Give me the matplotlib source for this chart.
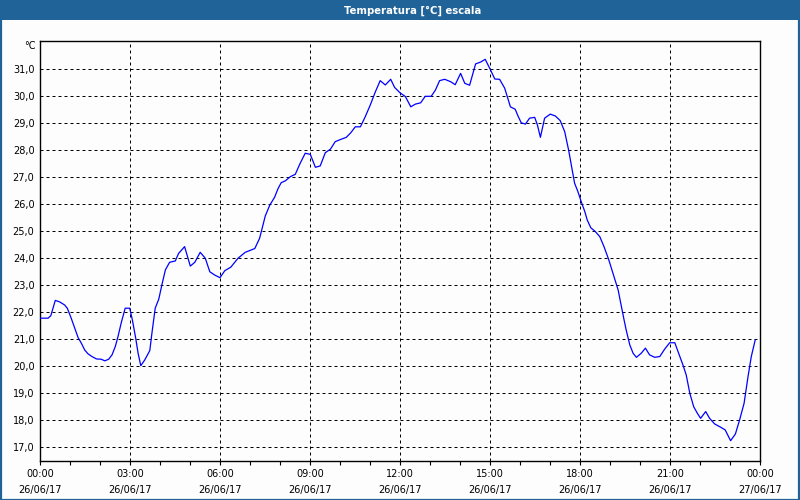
import matplotlib
matplotlib.use("Agg")
import matplotlib.pyplot as plt
from matplotlib.patches import Rectangle
from matplotlib.ticker import FixedLocator, MultipleLocator

# ---- data (hours since 26/06/17 00:00, temperature in °C) ----
hours = [0, 0.27, 0.36, 0.51, 0.66, 0.82, 0.91, 1.04, 1.16, 1.27, 1.38, 1.49, 1.6, 1.73, 1.88,
         2.04, 2.16, 2.29, 2.4, 2.51, 2.6, 2.71, 2.84, 2.99, 3.08, 3.19, 3.27, 3.36, 3.49, 3.66,
         3.73, 3.84, 3.96, 4.07, 4.18, 4.32, 4.51, 4.62, 4.82, 5.01, 5.16, 5.34, 5.51, 5.66, 5.82,
         6.0, 6.16, 6.36, 6.6, 6.84, 7.16, 7.32, 7.51, 7.66, 7.82, 7.93, 8.04, 8.18, 8.34, 8.51,
         8.66, 8.84, 9.01, 9.18, 9.34, 9.51, 9.68, 9.84, 10.04, 10.21, 10.36, 10.51, 10.68, 10.84,
         11.01, 11.18, 11.34, 11.51, 11.69, 11.82, 12.0, 12.18, 12.36, 12.51, 12.69, 12.84, 13.04,
         13.18, 13.32, 13.49, 13.69, 13.84, 14.02, 14.16, 14.32, 14.52, 14.69, 14.84, 14.99, 15.16,
         15.32, 15.49, 15.68, 15.84, 15.93, 16.04, 16.18, 16.32, 16.49, 16.58, 16.68, 16.82, 17.01,
         17.18, 17.34, 17.49, 17.62, 17.71, 17.82, 17.93, 18.04, 18.16, 18.24, 18.36, 18.51, 18.66,
         18.8, 18.96, 19.1, 19.27, 19.38, 19.47, 19.54, 19.66, 19.77, 19.88, 20.04, 20.18, 20.32,
         20.49, 20.66, 20.82, 20.99, 21.16, 21.29, 21.43, 21.54, 21.66, 21.79, 21.91, 22.02, 22.19,
         22.32, 22.49, 22.69, 22.84, 23.02, 23.18, 23.32, 23.47, 23.6, 23.71, 23.84]
temps = [21.78, 21.78, 21.87, 22.44, 22.38, 22.27, 22.15, 21.78, 21.41, 21.06, 20.85, 20.6, 20.46,
         20.36, 20.27, 20.26, 20.2, 20.26, 20.42, 20.73, 21.1, 21.62, 22.15, 22.15, 21.71, 21.04,
         20.48, 20.02, 20.23, 20.58, 21.22, 22.15, 22.49, 23.05, 23.57, 23.85, 23.9, 24.18, 24.43,
         23.71, 23.85, 24.22, 24.0, 23.5, 23.38, 23.28, 23.54, 23.67, 24.0, 24.22, 24.36, 24.74,
         25.57, 25.97, 26.26, 26.57, 26.8, 26.87, 27.02, 27.11, 27.49, 27.89, 27.85, 27.37, 27.42,
         27.91, 28.04, 28.32, 28.41, 28.48, 28.65, 28.87, 28.87, 29.24, 29.68, 30.17, 30.58, 30.42,
         30.63, 30.33, 30.13, 29.99, 29.61, 29.71, 29.76, 30.0, 30.0, 30.23, 30.58, 30.63, 30.54,
         30.43, 30.85, 30.48, 30.41, 31.2, 31.27, 31.37, 31.04, 30.64, 30.63, 30.3, 29.61, 29.52,
         29.28, 29.02, 28.97, 29.19, 29.22, 28.94, 28.48, 29.19, 29.34, 29.27, 29.1, 28.69, 28.01,
         27.46, 26.78, 26.47, 26.1, 25.73, 25.42, 25.13, 24.99, 24.8, 24.43, 23.94, 23.44, 22.83,
         22.21, 21.71, 21.34, 20.79, 20.48, 20.33, 20.48, 20.67, 20.42, 20.33, 20.36, 20.63, 20.87,
         20.87, 20.48, 20.05, 19.68, 19.0, 18.5, 18.26, 18.07, 18.32, 18.07, 17.86, 17.74, 17.64,
         17.24, 17.49, 18.01, 18.63, 19.61, 20.36, 20.97]

tick_hours = [0, 3, 6, 9, 12, 15, 18, 21, 24]
tick_times = ["00:00", "03:00", "06:00", "09:00", "12:00", "15:00", "18:00", "21:00", "00:00"]
tick_dates = ["26/06/17"] * 8 + ["27/06/17"]
y_ticks = [17, 18, 19, 20, 21, 22, 23, 24, 25, 26, 27, 28, 29, 30, 31]

title = "Temperatura [°C] escala"
unit = "°C"

# ---- figure ----
W, H = 800, 500
fig = plt.figure(figsize=(W / 100, H / 100), dpi=100, facecolor="#FCFDFC")

# title bar and window border
fig.add_artist(Rectangle((0, 1 - 20 / H), 1, 20 / H, transform=fig.transFigure,
                         facecolor="#1F6398", edgecolor="none", zorder=0))
fig.add_artist(Rectangle((0.5 / W, 0.5 / H), 1 - 1.5 / W, 1 - 1 / H, transform=fig.transFigure,
                         facecolor="none", edgecolor="#1F6398", linewidth=1.6, zorder=5))
fig.text(413 / W, 1 - 10.5 / H, title, color="white", fontsize=7.3, fontweight="bold",
         ha="center", va="center")

ax = fig.add_axes([40 / W, 1 - 460.7 / H, 720 / W, 420 / H])
ax.set_facecolor("#FCFDFC")
ax.plot(hours, temps, color="#0000FF", linewidth=0.9, zorder=3)

ax.set_xlim(0, 24)
ax.set_ylim(16.5, 32.06)

ax.xaxis.set_major_locator(FixedLocator(tick_hours))
ax.xaxis.set_minor_locator(MultipleLocator(1))
ax.set_xticklabels([f"{t}\n{d}" for t, d in zip(tick_times, tick_dates)],
                   fontsize=7, linespacing=1.75)
ax.yaxis.set_major_locator(FixedLocator(y_ticks))
ax.set_yticklabels([f"{v:.1f}".replace(".", ",") for v in y_ticks], fontsize=7)

ax.tick_params(axis="x", which="both", direction="out", length=3, width=0.8, pad=3,
               colors="black")
ax.tick_params(axis="y", which="both", length=0, pad=4, colors="black")

ax.grid(True, which="major", color="black", linewidth=0.72, linestyle=(0, (3, 3)))
for s in ax.spines.values():
    s.set_color("black")
    s.set_linewidth(1.0)

fig.text(36 / W, 1 - 46 / H, unit, fontsize=7, ha="right", va="center")

fig.savefig("out.png", dpi=100, facecolor=fig.get_facecolor())
